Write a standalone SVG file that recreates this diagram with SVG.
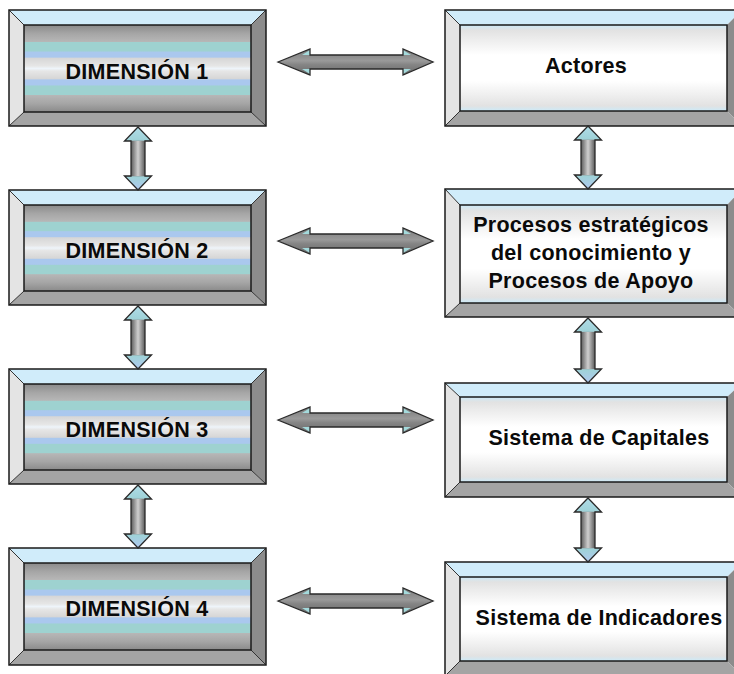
<svg xmlns="http://www.w3.org/2000/svg" width="734" height="674" viewBox="0 0 734 674">
<defs>
<linearGradient id="dimFill" x1="0" y1="0" x2="0" y2="1">
<stop offset="0" stop-color="#8a8a8a"/>
<stop offset="0.1" stop-color="#a6a6a6"/>
<stop offset="0.19" stop-color="#b6b6b6"/>
<stop offset="0.2" stop-color="#9ed2d0"/>
<stop offset="0.3" stop-color="#9ed2d0"/>
<stop offset="0.31" stop-color="#aac8ee"/>
<stop offset="0.37" stop-color="#aac8ee"/>
<stop offset="0.38" stop-color="#d6d6d6"/>
<stop offset="0.47" stop-color="#e6e6e6"/>
<stop offset="0.5" stop-color="#eef4fa"/>
<stop offset="0.53" stop-color="#e6e6e6"/>
<stop offset="0.62" stop-color="#d6d6d6"/>
<stop offset="0.63" stop-color="#aac8ee"/>
<stop offset="0.69" stop-color="#aac8ee"/>
<stop offset="0.7" stop-color="#9ed2d0"/>
<stop offset="0.8" stop-color="#9ed2d0"/>
<stop offset="0.81" stop-color="#b6b6b6"/>
<stop offset="0.9" stop-color="#a6a6a6"/>
<stop offset="1" stop-color="#8a8a8a"/>
</linearGradient>
<linearGradient id="whiteFill" x1="0" y1="0" x2="0" y2="1">
<stop offset="0" stop-color="#cceaf8"/>
<stop offset="0.06" stop-color="#e2e2e2"/>
<stop offset="0.2" stop-color="#f0f0f0"/>
<stop offset="0.35" stop-color="#ffffff"/>
<stop offset="0.65" stop-color="#ffffff"/>
<stop offset="0.8" stop-color="#f0f0f0"/>
<stop offset="0.94" stop-color="#e2e2e2"/>
<stop offset="1" stop-color="#cceaf8"/>
</linearGradient>
<linearGradient id="vArrow" x1="0" y1="0" x2="0" y2="1">
<stop offset="0" stop-color="#b0dce8"/>
<stop offset="0.2" stop-color="#9fd2d8"/>
<stop offset="0.24" stop-color="#8e8e8e"/>
<stop offset="0.76" stop-color="#8e8e8e"/>
<stop offset="0.8" stop-color="#9fd2d8"/>
<stop offset="1" stop-color="#b0c8f0"/>
</linearGradient>
<linearGradient id="vShaft" x1="0" y1="0" x2="1" y2="0">
<stop offset="0" stop-color="#5a5a5a"/>
<stop offset="0.5" stop-color="#cfcfcf"/>
<stop offset="1" stop-color="#5a5a5a"/>
</linearGradient>
<linearGradient id="hArrow" x1="0" y1="0" x2="0" y2="1">
<stop offset="0" stop-color="#7a7a7a"/>
<stop offset="0.45" stop-color="#9a9a9a"/>
<stop offset="0.6" stop-color="#858585"/>
<stop offset="1" stop-color="#6a6a6a"/>
</linearGradient>
</defs>
<style>
.top{fill:#d0ecfa}
.lft{fill:#e4e4e4}
.rgt{fill:#8c8c8c}
.bot{fill:#a4a4a4}
.edge{fill:none;stroke:#1a1a1a;stroke-width:1.5}
.diag{stroke:#333;stroke-width:1}
.dim{fill:url(#dimFill)}
.wht{fill:url(#whiteFill)}
.lbl{font-family:"Liberation Sans",Arial,sans-serif;font-weight:bold;font-size:21.5px;letter-spacing:0.3px;fill:#0a0a0a;text-anchor:middle}
.arr{stroke:#2a2a2a;stroke-width:1.3}
.ha{fill:url(#hArrow)}
.va{fill:url(#vArrow)}
.cy{fill:#a4dadc}
</style>

<g id="dim1">
<polygon class="top" points="9,10 266,10 251,25 24,25"/>
<polygon class="lft" points="9,10 24,25 24,112 9,126"/>
<polygon class="rgt" points="266,10 266,126 251,112 251,25"/>
<polygon class="bot" points="9,126 24,112 251,112 266,126"/>
<rect class="dim" x="24" y="25" width="227" height="87"/>
<line class="diag" x1="9" y1="10" x2="24" y2="25"/><line class="diag" x1="266" y1="10" x2="251" y2="25"/><line class="diag" x1="9" y1="126" x2="24" y2="112"/><line class="diag" x1="266" y1="126" x2="251" y2="112"/>
<rect class="edge" x="9" y="10" width="257" height="116"/>
<rect class="edge" x="24" y="25" width="227" height="87"/>
<text class="lbl" x="137" y="79">DIMENSIÓN 1</text>
</g>

<g id="dim2">
<polygon class="top" points="9,190 266,190 251,205 24,205"/>
<polygon class="lft" points="9,190 24,205 24,291 9,305"/>
<polygon class="rgt" points="266,190 266,305 251,291 251,205"/>
<polygon class="bot" points="9,305 24,291 251,291 266,305"/>
<rect class="dim" x="24" y="205" width="227" height="86"/>
<line class="diag" x1="9" y1="190" x2="24" y2="205"/><line class="diag" x1="266" y1="190" x2="251" y2="205"/><line class="diag" x1="9" y1="305" x2="24" y2="291"/><line class="diag" x1="266" y1="305" x2="251" y2="291"/>
<rect class="edge" x="9" y="190" width="257" height="115"/>
<rect class="edge" x="24" y="205" width="227" height="86"/>
<text class="lbl" x="137" y="258">DIMENSIÓN 2</text>
</g>

<g id="dim3">
<polygon class="top" points="9,369 266,369 251,384 24,384"/>
<polygon class="lft" points="9,369 24,384 24,470 9,484"/>
<polygon class="rgt" points="266,369 266,484 251,470 251,384"/>
<polygon class="bot" points="9,484 24,470 251,470 266,484"/>
<rect class="dim" x="24" y="384" width="227" height="86"/>
<line class="diag" x1="9" y1="369" x2="24" y2="384"/><line class="diag" x1="266" y1="369" x2="251" y2="384"/><line class="diag" x1="9" y1="484" x2="24" y2="470"/><line class="diag" x1="266" y1="484" x2="251" y2="470"/>
<rect class="edge" x="9" y="369" width="257" height="115"/>
<rect class="edge" x="24" y="384" width="227" height="86"/>
<text class="lbl" x="137" y="437">DIMENSIÓN 3</text>
</g>

<g id="dim4">
<polygon class="top" points="9,548 266,548 251,563 24,563"/>
<polygon class="lft" points="9,548 24,563 24,650 9,665"/>
<polygon class="rgt" points="266,548 266,665 251,650 251,563"/>
<polygon class="bot" points="9,665 24,650 251,650 266,665"/>
<rect class="dim" x="24" y="563" width="227" height="87"/>
<line class="diag" x1="9" y1="548" x2="24" y2="563"/><line class="diag" x1="266" y1="548" x2="251" y2="563"/><line class="diag" x1="9" y1="665" x2="24" y2="650"/><line class="diag" x1="266" y1="665" x2="251" y2="650"/>
<rect class="edge" x="9" y="548" width="257" height="117"/>
<rect class="edge" x="24" y="563" width="227" height="87"/>
<text class="lbl" x="137" y="616">DIMENSIÓN 4</text>
</g>

<g id="actores">
<polygon class="top" points="445,10 742,10 727,25 460,25"/>
<polygon class="lft" points="445,10 460,25 460,111 445,126"/>
<polygon class="rgt" points="742,10 742,126 727,111 727,25"/>
<polygon class="bot" points="445,126 460,111 727,111 742,126"/>
<rect class="wht" x="460" y="25" width="267" height="86"/>
<line class="diag" x1="445" y1="10" x2="460" y2="25"/><line class="diag" x1="445" y1="126" x2="460" y2="111"/>
<rect class="edge" x="445" y="10" width="297" height="116"/>
<rect class="edge" x="460" y="25" width="267" height="86"/>
<text class="lbl" x="586" y="73">Actores</text>
</g>

<g id="procesos">
<polygon class="top" points="445,189 742,189 727,205 460,205"/>
<polygon class="lft" points="445,189 460,205 460,303 445,317"/>
<polygon class="rgt" points="742,189 742,317 727,303 727,205"/>
<polygon class="bot" points="445,317 460,303 727,303 742,317"/>
<rect class="wht" x="460" y="205" width="267" height="98"/>
<line class="diag" x1="445" y1="189" x2="460" y2="205"/><line class="diag" x1="445" y1="317" x2="460" y2="303"/>
<rect class="edge" x="445" y="189" width="297" height="128"/>
<rect class="edge" x="460" y="205" width="267" height="98"/>
<text class="lbl" x="591" y="232">Procesos estratégicos</text>
<text class="lbl" x="591" y="260">del conocimiento y</text>
<text class="lbl" x="591" y="288">Procesos de Apoyo</text>
</g>

<g id="capitales">
<polygon class="top" points="445,383 742,383 727,397 460,397"/>
<polygon class="lft" points="445,383 460,397 460,482 445,497"/>
<polygon class="rgt" points="742,383 742,497 727,482 727,397"/>
<polygon class="bot" points="445,497 460,482 727,482 742,497"/>
<rect class="wht" x="460" y="397" width="267" height="85"/>
<line class="diag" x1="445" y1="383" x2="460" y2="397"/><line class="diag" x1="445" y1="497" x2="460" y2="482"/>
<rect class="edge" x="445" y="383" width="297" height="114"/>
<rect class="edge" x="460" y="397" width="267" height="85"/>
<text class="lbl" x="599" y="445">Sistema de Capitales</text>
</g>

<g id="indicadores">
<polygon class="top" points="445,562 742,562 727,577 460,577"/>
<polygon class="lft" points="445,562 460,577 460,661 445,676"/>
<polygon class="rgt" points="742,562 742,676 727,661 727,577"/>
<polygon class="bot" points="445,676 460,661 727,661 742,676"/>
<rect class="wht" x="460" y="577" width="267" height="84"/>
<line class="diag" x1="445" y1="562" x2="460" y2="577"/><line class="diag" x1="445" y1="676" x2="460" y2="661"/>
<rect class="edge" x="445" y="562" width="297" height="114"/>
<rect class="edge" x="460" y="577" width="267" height="84"/>
<text class="lbl" x="599" y="625">Sistema de Indicadores</text>
</g>

<g id="connectors">
<g id="h1">
<polygon class="ha" points="278,62 310,49 310,55 403,55 403,49 433,62 403,75 403,69 310,69 310,75"/>
<polygon class="cy" points="310,50 310,55 302,55"/><polygon class="cy" points="310,74 310,69 302,69"/><polygon class="cy" points="403,50 403,55 411,55"/><polygon class="cy" points="403,74 403,69 411,69"/>
<polygon class="arr" fill="none" points="278,62 310,49 310,55 403,55 403,49 433,62 403,75 403,69 310,69 310,75"/>
</g>
<g id="h2">
<polygon class="ha" points="278,241 310,228 310,234 403,234 403,228 433,241 403,254 403,248 310,248 310,254"/>
<polygon class="cy" points="310,229 310,234 302,234"/><polygon class="cy" points="310,253 310,248 302,248"/><polygon class="cy" points="403,229 403,234 411,234"/><polygon class="cy" points="403,253 403,248 411,248"/>
<polygon class="arr" fill="none" points="278,241 310,228 310,234 403,234 403,228 433,241 403,254 403,248 310,248 310,254"/>
</g>
<g id="h3">
<polygon class="ha" points="278,420 310,407 310,413 403,413 403,407 433,420 403,433 403,427 310,427 310,433"/>
<polygon class="cy" points="310,408 310,413 302,413"/><polygon class="cy" points="310,432 310,427 302,427"/><polygon class="cy" points="403,408 403,413 411,413"/><polygon class="cy" points="403,432 403,427 411,427"/>
<polygon class="arr" fill="none" points="278,420 310,407 310,413 403,413 403,407 433,420 403,433 403,427 310,427 310,433"/>
</g>
<g id="h4">
<polygon class="ha" points="278,601 310,588 310,594 403,594 403,588 433,601 403,614 403,608 310,608 310,614"/>
<polygon class="cy" points="310,589 310,594 302,594"/><polygon class="cy" points="310,613 310,608 302,608"/><polygon class="cy" points="403,589 403,594 411,594"/><polygon class="cy" points="403,613 403,608 411,608"/>
<polygon class="arr" fill="none" points="278,601 310,588 310,594 403,594 403,588 433,601 403,614 403,608 310,608 310,614"/>
</g>

<g id="vl1">
<polygon class="va" points="138,127 151.5,141 145,141 145,176 151.5,176 138,190 124.5,176 131,176 131,141 124.5,141"/>
<rect x="131" y="141" width="14" height="35" fill="url(#vShaft)"/>
<polygon class="arr" fill="none" points="138,127 151.5,141 145,141 145,176 151.5,176 138,190 124.5,176 131,176 131,141 124.5,141"/>
</g>
<g id="vl2">
<polygon class="va" points="138,306 151.5,320 145,320 145,355 151.5,355 138,369 124.5,355 131,355 131,320 124.5,320"/>
<rect x="131" y="320" width="14" height="35" fill="url(#vShaft)"/>
<polygon class="arr" fill="none" points="138,306 151.5,320 145,320 145,355 151.5,355 138,369 124.5,355 131,355 131,320 124.5,320"/>
</g>
<g id="vl3">
<polygon class="va" points="138,485 151.5,499 145,499 145,534 151.5,534 138,548 124.5,534 131,534 131,499 124.5,499"/>
<rect x="131" y="499" width="14" height="35" fill="url(#vShaft)"/>
<polygon class="arr" fill="none" points="138,485 151.5,499 145,499 145,534 151.5,534 138,548 124.5,534 131,534 131,499 124.5,499"/>
</g>
<g id="vr1">
<polygon class="va" points="588,126 601.5,140 595,140 595,175 601.5,175 588,189 574.5,175 581,175 581,140 574.5,140"/>
<rect x="581" y="140" width="14" height="35" fill="url(#vShaft)"/>
<polygon class="arr" fill="none" points="588,126 601.5,140 595,140 595,175 601.5,175 588,189 574.5,175 581,175 581,140 574.5,140"/>
</g>
<g id="vr2">
<polygon class="va" points="588,318 601.5,332 595,332 595,369 601.5,369 588,383 574.5,369 581,369 581,332 574.5,332"/>
<rect x="581" y="332" width="14" height="37" fill="url(#vShaft)"/>
<polygon class="arr" fill="none" points="588,318 601.5,332 595,332 595,369 601.5,369 588,383 574.5,369 581,369 581,332 574.5,332"/>
</g>
<g id="vr3">
<polygon class="va" points="588,498 601.5,512 595,512 595,548 601.5,548 588,562 574.5,548 581,548 581,512 574.5,512"/>
<rect x="581" y="512" width="14" height="36" fill="url(#vShaft)"/>
<polygon class="arr" fill="none" points="588,498 601.5,512 595,512 595,548 601.5,548 588,562 574.5,548 581,548 581,512 574.5,512"/>
</g>
</g>
</svg>
